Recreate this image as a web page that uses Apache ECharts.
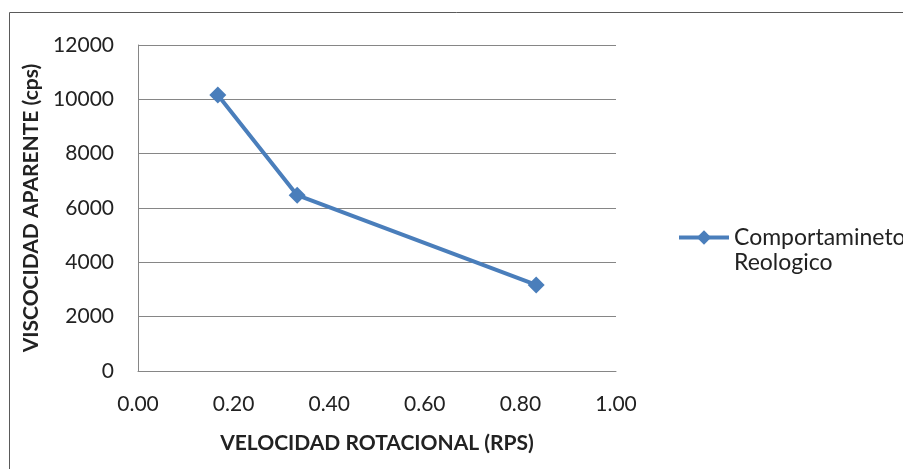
<!DOCTYPE html>
<html>
<head>
<meta charset="utf-8">
<script src="https://cdn.jsdelivr.net/npm/echarts@6/dist/echarts.min.js"></script>
<style>
  html, body { margin: 0; padding: 0; background: #fff; }
  #chart { width: 903px; height: 469px; }
</style>
</head>
<body>
<div id="chart"></div>
<script>
// datos
var velocidad = [0.167, 0.333, 0.833];
var viscosidad = [10160, 6470, 3170];
var serieNombre = 'Comportamineto\nReologico';

var puntos = velocidad.map(function (v, i) { return [v, viscosidad[i]]; });

var chart = echarts.init(document.getElementById('chart'));
chart.setOption({
    animation: false,
    textStyle: { fontFamily: 'Lato' },
    graphic: [{
        type: 'rect',
        shape: { x: 9.5, y: 12.5, width: 1000, height: 1000 },
        style: { fill: 'none', stroke: '#5a5a5a', lineWidth: 1 },
        silent: true
    }],
    grid: { left: 138, right: 287, top: 45, bottom: 98 },
    legend: {
        left: 672,
        top: 195,
        itemWidth: 50,
        itemHeight: 18,
        data: [serieNombre],
        lineStyle: { width: 4 },
        // linea vacia arriba para que la primera linea quede junto al icono
        formatter: function (name) { return ' \n' + name; },
        textStyle: { fontSize: 23, color: '#222', lineHeight: 25 }
    },
    xAxis: {
        type: 'value',
        min: 0, max: 1, interval: 0.2,
        name: 'VELOCIDAD ROTACIONAL (RPS)',
        nameLocation: 'middle',
        nameGap: 62,
        nameTextStyle: { fontSize: 21, fontWeight: 'bold', color: '#222' },
        axisLine: { lineStyle: { color: '#868686' } },
        axisTick: { show: false },
        axisLabel: { fontSize: 21, color: '#222', margin: 23, formatter: function (v) { return v.toFixed(2); } },
        splitLine: { show: false }
    },
    yAxis: {
        type: 'value',
        min: 0, max: 12000, interval: 2000,
        name: 'VISCOCIDAD APARENTE (cps)',
        nameLocation: 'middle',
        nameGap: 93,
        nameTextStyle: { fontSize: 21, fontWeight: 'bold', color: '#222' },
        axisLine: { show: true, lineStyle: { color: '#868686' } },
        axisTick: { show: false },
        axisLabel: { fontSize: 21, color: '#222', margin: 24, formatter: function (v) { return String(v); } },
        splitLine: { lineStyle: { color: '#868686' } }
    },
    series: [{
        name: serieNombre,
        type: 'line',
        data: puntos,
        symbol: 'diamond',
        symbolSize: 17,
        lineStyle: { color: '#4a7ebb', width: 4 },
        itemStyle: { color: '#4a7ebb' }
    }]
});
</script>
</body>
</html>
